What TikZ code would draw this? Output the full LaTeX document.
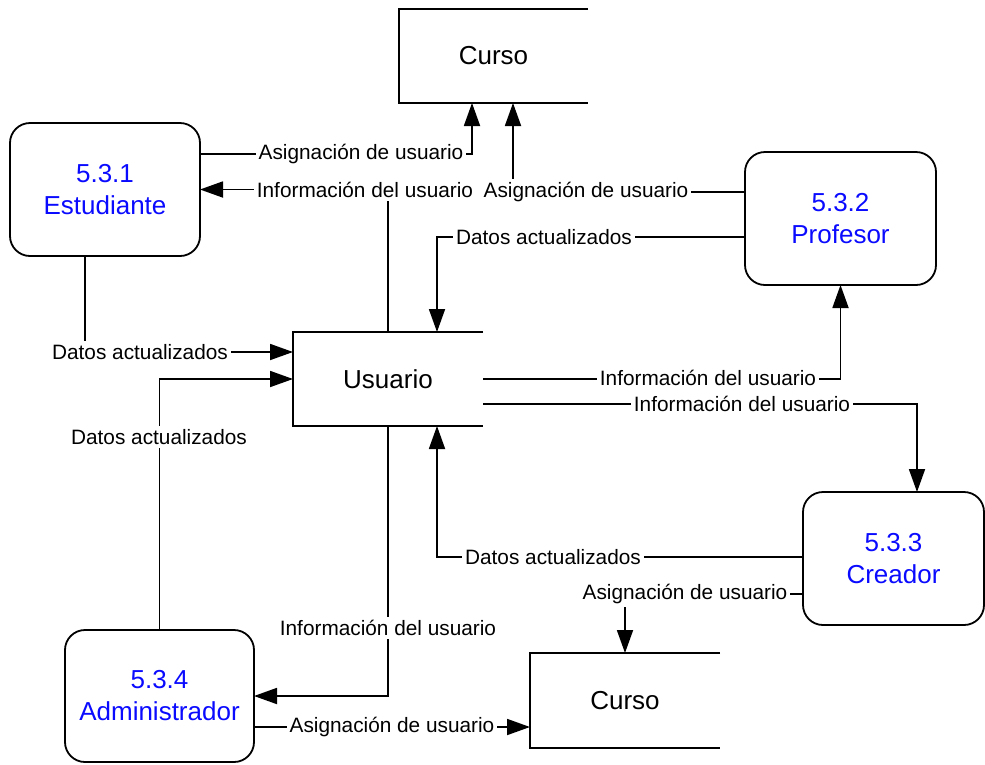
\documentclass[tikz,border=0pt]{standalone}
\usepackage{fontspec}
\setmainfont{Liberation Sans}
\usetikzlibrary{arrows.meta}
\definecolor{procblue}{RGB}{10,10,255}
\begin{document}
\begin{tikzpicture}[x=1pt,y=-1pt,
  line width=1.8pt,
  arr/.style={-{Triangle[length=23pt,width=16pt]}},
  proc/.style={draw, rounded corners=20pt, inner sep=0pt, outer sep=0pt,
     text=procblue, align=center, font=\fontsize{26}{32}\selectfont},
  store/.style={inner sep=0pt, outer sep=0pt, minimum width=190pt, minimum height=94pt,
     font=\fontsize{26}{32}\selectfont},
  lbl/.style={fill=white, inner sep=3pt, font=\fontsize{20.8}{24}\selectfont}]
\useasboundingbox (0,0) rectangle (985,764);

% processes
\node[proc, minimum width=190pt, minimum height=133pt] (estud) at (105,189.5) {5.3.1\\Estudiante};
\node[proc, minimum width=191pt, minimum height=133pt] (prof) at (840.5,218.5) {5.3.2\\Profesor};
\node[proc, minimum width=181pt, minimum height=133pt] (creador) at (893.5,558.5) {5.3.3\\Creador};
\node[proc, minimum width=189pt, minimum height=132pt] (admin) at (159.5,696) {5.3.4\\Administrador};

% data stores
\node[store, minimum width=189pt] (curso1) at (493.5,56) {Curso};
\node[store] (usuario) at (388,379) {Usuario};
\node[store, minimum height=95pt] (curso2) at (625,700.5) {Curso};
\foreach \s in {curso1,usuario,curso2}
  \draw (\s.north east) -- (\s.north west) -- (\s.south west) -- (\s.south east);

% connectors
\draw[arr] (estud.east |- 0,154) -| (curso1.south -| 472,0);
\draw[arr] (usuario.north) |- (estud.east);
\draw[arr] (prof.west |- 0,192) -| (curso1.south -| 513,0);
\draw[arr] (prof.west |- 0,237) -| (usuario.north -| 437,0);
\draw[arr] (estud.south -| 85,0) |- (usuario.west |- 0,352);
\draw[arr] (admin.north) |- (usuario.west);
\draw[arr] (usuario.south) |- (admin.east);
\draw[arr] (usuario.east) -| (prof.south);
\draw[arr] (usuario.east |- 0,404) -| (creador.north -| 917,0);
\draw[arr] (creador.west |- 0,557) -| (usuario.south -| 437,0);
\draw[arr] (creador.west |- 0,594) -| (curso2.north);
\draw[arr] (admin.east |- 0,727) -- (curso2.west |- 0,727);

% labels
\node[lbl] (l1) at (361,154) {Asignación de usuario};
\node[lbl] (l2) at (365,190) {Información del usuario};
\node[lbl] (l3) at (586,192) {Asignación de usuario};
\node[lbl] (l4) at (544,237) {Datos actualizados};
\node[lbl] (l5) at (140,352) {Datos actualizados};
\node[lbl] (l6) at (159,437) {Datos actualizados};
\node[lbl] (l7) at (388,628) {Información del usuario};
\node[lbl] (l8) at (708,378) {Información del usuario};
\node[lbl] (l9) at (742,404) {Información del usuario};
\node[lbl] (l10) at (553,557) {Datos actualizados};
\node[lbl] (l11) at (685,594) {Asignación de usuario};
\node[lbl] (l12) at (392,727) {Asignación de usuario};
\end{tikzpicture}
\end{document}
